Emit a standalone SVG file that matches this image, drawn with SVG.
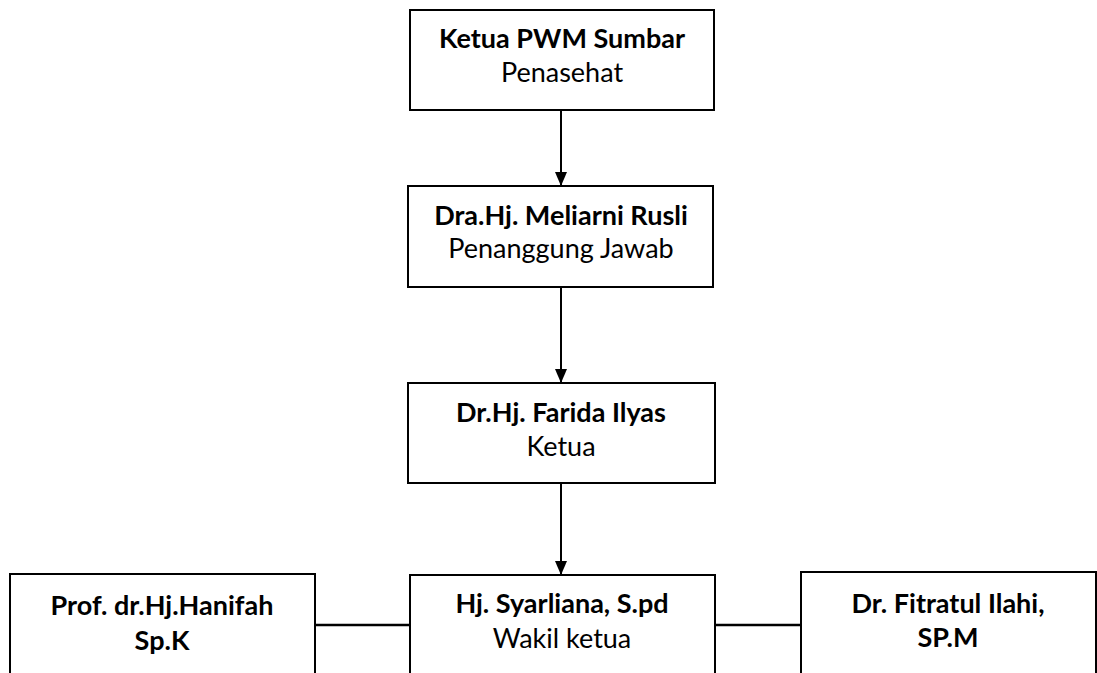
<svg xmlns="http://www.w3.org/2000/svg" width="1097" height="673" viewBox="0 0 1097 673">
<style>
.box{fill:#fff;stroke:#000;stroke-width:2}
.t{font-family:Lato,"Liberation Sans",sans-serif;font-size:27px;text-anchor:middle;fill:#000}
.b{font-weight:bold}
.c{stroke:#000;stroke-width:2;fill:none}
</style>
<defs>
<marker id="ah" markerWidth="14" markerHeight="12" refX="14" refY="6" orient="auto" markerUnits="userSpaceOnUse" viewBox="0 0 14 12">
<path d="M0,0 L14,6 L0,12 Z" fill="#000"/>
</marker>
</defs>
<g id="connectors">
<line class="c" x1="561" y1="110" x2="561" y2="186" marker-end="url(#ah)"/>
<line class="c" x1="561" y1="287" x2="561" y2="383" marker-end="url(#ah)"/>
<line class="c" x1="561" y1="483" x2="561" y2="575" marker-end="url(#ah)"/>
<line class="c" x1="315" y1="625" x2="410" y2="625" style="stroke-width:2.5"/>
<line class="c" x1="715" y1="625" x2="801" y2="625" style="stroke-width:2.5"/>
</g>
<g id="n1">
<rect class="box" x="410" y="10" width="304" height="100"/>
<text class="t b" x="562" y="48">Ketua PWM Sumbar</text>
<text class="t" x="562" y="82">Penasehat</text>
</g>
<g id="n2">
<rect class="box" x="408" y="186" width="305" height="101"/>
<text class="t b" x="561" y="225">Dra.Hj. Meliarni Rusli</text>
<text class="t" x="561" y="258">Penanggung Jawab</text>
</g>
<g id="n3">
<rect class="box" x="408" y="383" width="307" height="100"/>
<text class="t b" x="561" y="422">Dr.Hj. Farida Ilyas</text>
<text class="t" x="561" y="456">Ketua</text>
</g>
<g id="n4">
<rect class="box" x="410" y="575" width="305" height="110"/>
<text class="t b" x="562" y="613">Hj. Syarliana, S.pd</text>
<text class="t" x="562" y="648">Wakil ketua</text>
</g>
<g id="n5">
<rect class="box" x="10" y="574" width="305" height="110"/>
<text class="t b" x="162" y="615">Prof. dr.Hj.Hanifah</text>
<text class="t b" x="162" y="650">Sp.K</text>
</g>
<g id="n6">
<rect class="box" x="801" y="572" width="295" height="112"/>
<text class="t b" x="948" y="613">Dr. Fitratul Ilahi,</text>
<text class="t b" x="948" y="647">SP.M</text>
</g>
</svg>
